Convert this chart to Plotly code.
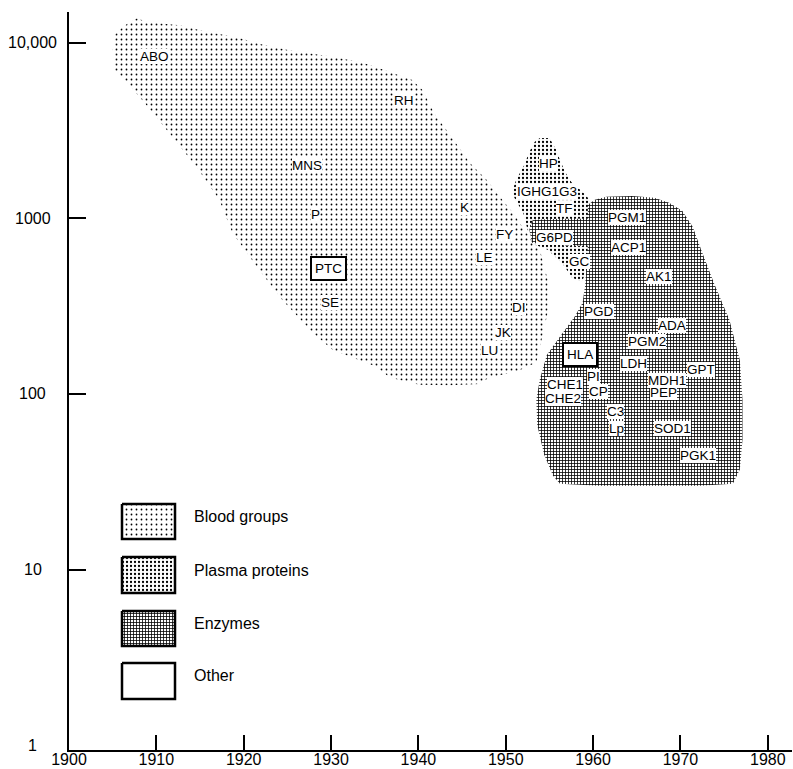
import numpy as np
import plotly.graph_objects as go

# ---------------- data ----------------
marker_names = ["ABO", "RH", "MNS", "P", "PTC", "SE", "K", "FY", "LE", "DI", "JK", "LU",
                "HP", "IGHG1G3", "TF", "G6PD", "GC", "PGM1", "ACP1", "AK1", "PGD", "ADA",
                "PGM2", "HLA", "LDH", "GPT", "MDH1", "PEP", "PI", "CHE1", "CP", "CHE2",
                "C3", "Lp", "SOD1", "PGK1"]
marker_years = [1909.8, 1938.4, 1927.2, 1928.2, 1929.7, 1929.9, 1945.3, 1949.9, 1947.6, 1951.5,
                1949.7, 1948.1, 1954.9, 1954.7, 1956.7, 1955.6, 1958.4, 1963.9, 1964.1, 1967.5,
                1960.7, 1969.0, 1966.2, 1958.5, 1964.6, 1972.3, 1968.5, 1968.1, 1960.0, 1956.8,
                1960.6, 1956.6, 1962.6, 1962.7, 1969.1, 1972.0]
marker_counts = [8390, 4690, 2000, 1059, 519, 332, 1161, 815, 600, 311,
                 224, 177, 2066, 1432, 1146, 779, 572, 1012, 683, 464,
                 294, 244, 198, 168, 150, 137, 120, 102, 125, 114,
                 104, 94, 80, 64, 64, 44.5]
boxed_markers = ["PTC", "HLA"]  # "Other" category

blood_years = [1906.9, 1907.8, 1909.0, 1912.7, 1915.5, 1919.2, 1922.0, 1925.2, 1929.8, 1933.5,
               1936.1, 1939.3, 1940.5, 1941.8, 1943.8, 1945.9, 1947.8, 1949.6, 1951.0, 1952.1,
               1953.9, 1954.8, 1954.8, 1954.1, 1953.5, 1951.2, 1948.1, 1947.0, 1943.6, 1940.1,
               1936.7, 1935.2, 1930.2, 1927.9, 1924.4, 1921.5, 1918.7, 1917.2, 1914.6, 1911.5,
               1908.4, 1906.4, 1905.2, 1905.0, 1905.2, 1906.0]
blood_counts = [13090, 13800, 13090, 12590, 11640, 10760, 9820, 9080, 8390, 7760,
                7000, 6140, 5380, 3980, 2910, 2070, 1660, 1276, 1050, 863,
                664, 448, 291, 203, 151, 134, 124, 114, 112, 113,
                124, 143, 178, 223, 344, 531, 830, 1276, 1965, 3060,
                4720, 6140, 7000, 9080, 11040, 12100]

plasma_years = [1953.9, 1955.0, 1955.8, 1956.2, 1956.8, 1957.5, 1958.8, 1959.6, 1959.8, 1959.6,
                1958.7, 1957.6, 1956.5, 1954.8, 1953.3, 1952.5, 1952.0, 1951.1, 1950.7, 1951.2,
                1952.1, 1952.7, 1953.3]
plasma_counts = [2870, 2870, 2450, 2150, 1840, 1615, 1415, 1276, 863, 546,
                 436, 460, 553, 664, 710, 863, 1079, 1276, 1415, 1660,
                 2010, 2390, 2730]

enzyme_years = [1959.4, 1960.2, 1961.5, 1964.5, 1967.0, 1968.7, 1970.2, 1971.4, 1972.5, 1973.9,
                1975.6, 1976.8, 1977.1, 1977.1, 1976.8, 1976.0, 1972.2, 1960.7, 1956.2, 1955.4,
                1954.4, 1953.6, 1953.5, 1953.9, 1954.7, 1956.2, 1957.9, 1958.8, 1959.1, 1959.4,
                1957.9, 1954.4, 1953.0, 1952.7, 1953.1, 1956.2, 1959.4]
enzyme_counts = [1196, 1276, 1327, 1343, 1310, 1227, 1107, 898, 638, 420,
                 265, 156, 92.7, 54.9, 37.1, 30.8, 30.0, 30.0, 30.8, 34.3,
                 45.1, 66.8, 92.7, 121, 167, 212, 276, 331, 420, 700,
                 700, 710, 728, 863, 984, 997, 997]

x_tick_vals = [1900, 1910, 1920, 1930, 1940, 1950, 1960, 1970, 1980]
y_tick_vals = [10000, 1000, 100, 10, 1]
y_tick_text = ["10,000", "1000", "100", "10", "1"]

legend_names = ["Blood groups", "Plasma proteins", "Enzymes", "Other"]

# ---------------- styles ----------------
FONT = "Liberation Sans, Arial, Helvetica, sans-serif"
patterns = {
    "Blood groups": dict(shape=".", size=5, solidity=0.1, fgcolor="black", bgcolor="white", fillmode="replace"),
    "Plasma proteins": dict(shape=".", size=4, solidity=0.25, fgcolor="black", bgcolor="white", fillmode="replace"),
    "Enzymes": dict(shape="+", size=3, solidity=0.45, fgcolor="black", bgcolor="white", fillmode="replace"),
    "Other": None,
}

fig = go.Figure()

for name, xs, ys in [("Blood groups", blood_years, blood_counts),
                     ("Plasma proteins", plasma_years, plasma_counts),
                     ("Enzymes", enzyme_years, enzyme_counts)]:
    fig.add_trace(go.Scatter(
        x=xs, y=ys, mode="none", fill="toself",
        fillcolor="white", fillpattern=patterns[name],
        hoverinfo="skip", showlegend=False))

# marker labels
for nm, yr, ct in zip(marker_names, marker_years, marker_counts):
    boxed = nm in boxed_markers
    fig.add_annotation(
        x=yr, y=np.log10(ct), xref="x", yref="y", text=nm, showarrow=False,
        font=dict(family=FONT, size=13.5, color="black"),
        bgcolor="white",
        bordercolor="black" if boxed else "rgba(0,0,0,0)",
        borderwidth=2 if boxed else 0,
        borderpad=3 if boxed else 0,
        xanchor="center", yanchor="middle")

# y tick labels (centered like the original)
for v, t in zip(y_tick_vals, y_tick_text):
    fig.add_annotation(x=-0.0498, xref="paper", y=np.log10(v), yref="y", text=t,
                       showarrow=False, xanchor="center", yanchor="middle",
                       font=dict(family=FONT, size=16, color="black"))

# ---------------- legend (pixel-like overlay axes) ----------------
leg_box_x = [122, 175]
leg_box_y = [(504, 539), (557, 593), (611, 646), (663, 699)]
leg_text_x = 192
leg_text_y = [516, 570, 623, 675]
for name, (y0, y1), ty in zip(legend_names, leg_box_y, leg_text_y):
    pat = patterns[name]
    kw = dict(fillpattern=pat) if pat else {}
    fig.add_trace(go.Scatter(
        x=[leg_box_x[0], leg_box_x[1], leg_box_x[1], leg_box_x[0], leg_box_x[0]],
        y=[y0, y0, y1, y1, y0], xaxis="x2", yaxis="y2",
        mode="lines", line=dict(color="black", width=2.5), fill="toself",
        fillcolor="white", hoverinfo="skip", showlegend=False, **kw))
    fig.add_annotation(x=leg_text_x, y=ty, xref="x2", yref="y2", text=name,
                       showarrow=False, xanchor="left", yanchor="middle",
                       font=dict(family=FONT, size=16, color="black"))

fig.update_layout(
    width=793, height=769,
    margin=dict(l=69, r=1, t=12, b=19),
    paper_bgcolor="white", plot_bgcolor="white",
    showlegend=False,
    xaxis=dict(range=[1900, 1982.77], showline=True, linewidth=2, linecolor="black",
               ticks="inside", ticklen=15, tickwidth=2, tickcolor="black",
               tickvals=x_tick_vals, ticktext=[str(v) for v in x_tick_vals],
               tickfont=dict(family=FONT, size=16, color="black"),
               ticklabelstandoff=-6,
               showgrid=False, zeroline=False, automargin=False),
    yaxis=dict(type="log", range=[-0.028, 4.176], showline=True, linewidth=2, linecolor="black",
               ticks="inside", ticklen=17, tickwidth=2, tickcolor="black",
               tickvals=[10, 100, 1000, 10000], showticklabels=False,
               showgrid=False, zeroline=False, automargin=False),
    xaxis2=dict(range=[69, 792], overlaying="x", anchor="y2", visible=False, fixedrange=True),
    yaxis2=dict(range=[750, 12], overlaying="y", anchor="x2", visible=False, fixedrange=True),
)

fig.write_html("out.html", config={"displayModeBar": False},
               post_script="document.body.style.margin='0';document.body.style.overflow='hidden';")
